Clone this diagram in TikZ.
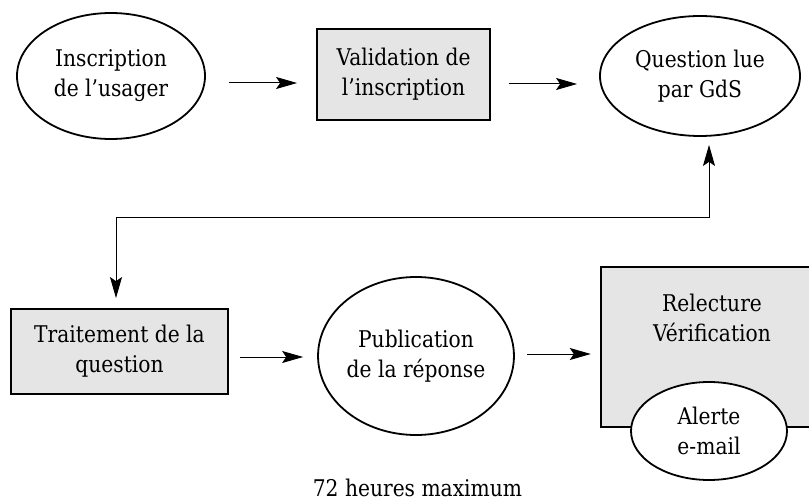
\documentclass[tikz,border=0pt]{standalone}
\usepackage{fontspec}
\setmainfont{DejaVu Serif}[FakeStretch=0.88]
\usetikzlibrary{shapes.geometric,arrows.meta,calc}
\definecolor{boxgray}{HTML}{E5E5E5}
\begin{document}
\begin{tikzpicture}[x=1pt,y=-1pt,
  every node/.style={font=\fontsize{23}{30}\selectfont, align=center, inner sep=0pt},
  ovalnode/.style={ellipse, draw, line width=1.8pt, fill=white},
  graybox/.style={rectangle, draw, line width=1.8pt, fill=boxgray},
  arr/.style={line width=1pt, -{Stealth[length=21pt,width=12pt,inset=4pt]}},
  arrtwo/.style={line width=1pt, {Stealth[length=21pt,width=12pt,inset=4pt]}-{Stealth[length=21pt,width=12pt,inset=4pt]}}
]
\useasboundingbox (0,0) rectangle (809,500);
\clip (0,0) rectangle (809,500);
\fill[white] (0,0) rectangle (809,500);

% top row
\node[ovalnode, minimum width=188pt, minimum height=126pt] (e1) at (111,76) {Inscription\\de l’usager};
\node[graybox, minimum width=173pt, minimum height=91pt] (b2) at (403.5,74.5) {Validation de\\l’inscription};
\node[ovalnode, minimum width=200pt, minimum height=120pt] (e3) at (700,76) {Question lue\\par GdS};

% bottom row
\node[graybox, minimum width=217pt, minimum height=85pt] (b4) at (119.5,351.5) {Traitement de la\\question};
\node[ovalnode, minimum width=188pt, minimum height=158pt] (e5) at (416,356) {Publication\\de la réponse};
\node[graybox, line width=2.4pt, minimum width=220pt, minimum height=160pt] (b6) at (711,347) {};
\node (b6text) at (712,318) {Relecture\\Vérification};
\node[ovalnode, minimum width=156pt, minimum height=98pt] (e7) at (709,431) {Alerte\\e-mail};

\node[anchor=base] (note) at (417.5,496) {72 heures maximum};

% connectors
\draw[arr] ([shift={(23,7)}]e1.east) -- ([shift={(-19,8.5)}]b2.west);
\draw[arr] ([shift={(18,9.5)}]b2.east) -- ([shift={(-22,8)}]e3.west);
\draw[arr] ([shift={(11,5.5)}]b4.east) -- ([shift={(-14,1)}]e5.west);
\draw[arr] ([shift={(12,-2)}]e5.east) -- ([shift={(-9,7)}]b6.west);
\draw[arrtwo] ([shift={(-3.5,-10)}]b4.north) -- ++(0,-81) -| ([shift={(9,8)}]e3.south);
\end{tikzpicture}
\end{document}
